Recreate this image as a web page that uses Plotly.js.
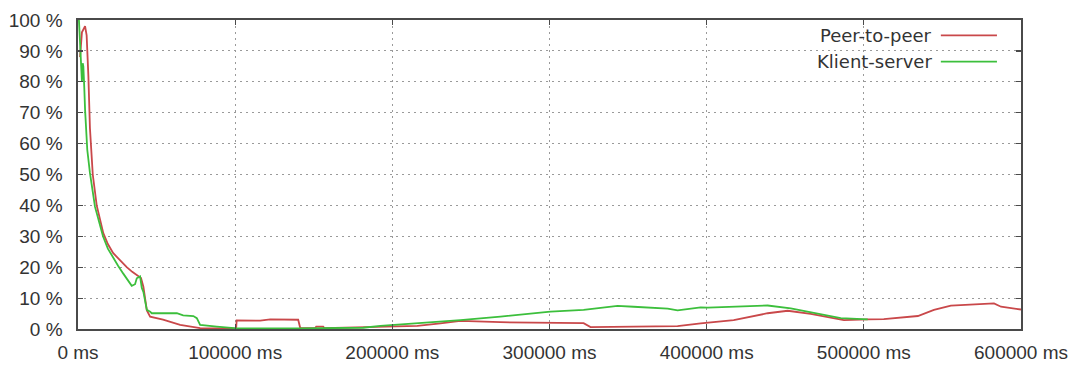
<!DOCTYPE html>
<html>
<head>
<meta charset="utf-8">
<script src="https://cdn.plot.ly/plotly-3.0.1.min.js"></script>
<style>
  html, body { margin: 0; padding: 0; background: #fff; }
  #chart { width: 1078px; height: 370px; }
</style>
</head>
<body>
<div id="chart"></div>
<script>
// Peer-to-peer series (time in ms, share in %)
const p2pTime = [1300, 2500, 4500, 5500, 6600, 7600, 9400, 11900, 16100, 19000, 22300, 26000, 31000, 34500, 38400, 40100, 41600, 43800, 45900, 54100, 65000, 77700, 98700, 100600, 100950, 115900, 122300, 140100, 141400, 150900, 151600, 156000, 156700, 179600, 215900, 230600, 243300, 268800, 300600, 321700, 326100, 345200, 381500, 396200, 417200, 438800, 451600, 466200, 474500, 487300, 502500, 512700, 534400, 544600, 555400, 576400, 582800, 587300, 598100, 600000];
const p2pValue = [88, 96, 98, 95, 82, 65, 50, 40, 31, 27.5, 24.6, 22.5, 20, 18.5, 17, 16.5, 13.7, 6, 4, 3, 1.3, 0.3, 0.1, 0.1, 2.8, 2.7, 3.1, 3.0, 0.3, 0.3, 0.8, 0.8, 0.3, 0.5, 1.0, 1.8, 2.6, 2.2, 2.0, 1.9, 0.6, 0.7, 0.9, 1.8, 2.9, 5.1, 5.9, 4.9, 4.2, 2.9, 3.1, 3.2, 4.2, 6.2, 7.6, 8.3, 8.3, 7.2, 6.4, 6.3];

// Klient-server series (time in ms, share in %)
const ksTime = [600, 1300, 2000, 2500, 3000, 3400, 4000, 4500, 5900, 7600, 10800, 15900, 19000, 22300, 25500, 28700, 31500, 34200, 36300, 37400, 39500, 40600, 41600, 43800, 45900, 46900, 56500, 62900, 66900, 73400, 75600, 77700, 88300, 98700, 101300, 141400, 181500, 192400, 200600, 215900, 243300, 268800, 300600, 321700, 343300, 353500, 375200, 381500, 396200, 400700, 438800, 453500, 470700, 485300, 502500];
const ksValue = [100, 93, 82, 80, 86, 85, 78, 71, 58, 50.5, 39.6, 30, 26, 23, 20.5, 18, 16, 14, 14.5, 16.4, 17, 13.3, 12, 6.2, 5.6, 5.1, 5.1, 5.1, 4.4, 4.2, 3.5, 1.3, 0.8, 0.3, 0.2, 0.2, 0.4, 1.0, 1.3, 1.8, 2.9, 4.0, 5.6, 6.2, 7.5, 7.2, 6.6, 6.0, 7.0, 6.9, 7.6, 6.7, 4.9, 3.5, 3.1];

// Tick labels
const xTickVals = [0, 100000, 200000, 300000, 400000, 500000, 600000];
const xTickText = ["0 ms", "100000 ms", "200000 ms", "300000 ms", "400000 ms", "500000 ms", "600000 ms"];
const yTickVals = [0, 10, 20, 30, 40, 50, 60, 70, 80, 90, 100];
const yTickText = ["0 %", "10 %", "20 %", "30 %", "40 %", "50 %", "60 %", "70 %", "80 %", "90 %", "100 %"];

const seriesNames = ["Peer-to-peer", "Klient-server"];
const RED = "#c9484a";
const GREEN = "#3cbf3c";

const traces = [
  { x: p2pTime, y: p2pValue, name: seriesNames[0], type: "scatter", mode: "lines",
    line: { color: RED, width: 1.8 } },
  { x: ksTime, y: ksValue, name: seriesNames[1], type: "scatter", mode: "lines",
    line: { color: GREEN, width: 1.8 } }
];

const tickFont = { family: "Liberation Sans, Arial, sans-serif", size: 19, color: "#333" };
const legFont = { family: "DejaVu Sans, sans-serif", size: 18, color: "#333" };

const axisCommon = {
  showline: true, linecolor: "#4a4a4a", linewidth: 1.6, mirror: "ticks",
  ticks: "inside", ticklen: 5, tickwidth: 1.2, tickcolor: "#4a4a4a",
  showgrid: true, gridcolor: "#9a9a9a", gridwidth: 1, griddash: "2px,4px",
  zeroline: false, tickfont: tickFont, fixedrange: true
};

const layout = {
  width: 1078, height: 370,
  margin: { l: 78, r: 57, t: 20, b: 41 },
  paper_bgcolor: "#fff", plot_bgcolor: "#fff",
  showlegend: false,
  xaxis: Object.assign({}, axisCommon, {
    range: [0, 600000], tickmode: "array", tickvals: xTickVals, ticktext: xTickText,
    ticklabelstandoff: 6
  }),
  yaxis: Object.assign({}, axisCommon, {
    range: [0, 100], tickmode: "array", tickvals: yTickVals, ticktext: yTickText,
    ticklabelstandoff: 10
  }),
  shapes: [
    { type: "rect", xref: "paper", yref: "paper", x0: 0.726, x1: 0.99, y0: 0.835, y1: 1,
      fillcolor: "#fff", line: { width: 0 }, layer: "between" },
    { type: "line", xref: "paper", yref: "paper", x0: 0.915, x1: 0.9745, y0: 0.950, y1: 0.950,
      line: { color: RED, width: 1.8 } },
    { type: "line", xref: "paper", yref: "paper", x0: 0.915, x1: 0.9745, y0: 0.8655, y1: 0.8655,
      line: { color: GREEN, width: 1.8 } }
  ],
  annotations: [
    { xref: "paper", yref: "paper", x: 0.9076, y: 0.950, xanchor: "right", yanchor: "middle",
      text: seriesNames[0], showarrow: false, font: legFont },
    { xref: "paper", yref: "paper", x: 0.9076, y: 0.8655, xanchor: "right", yanchor: "middle",
      text: seriesNames[1], showarrow: false, font: legFont }
  ]
};

Plotly.newPlot("chart", traces, layout, { displayModeBar: false, staticPlot: true });
</script>
</body>
</html>
